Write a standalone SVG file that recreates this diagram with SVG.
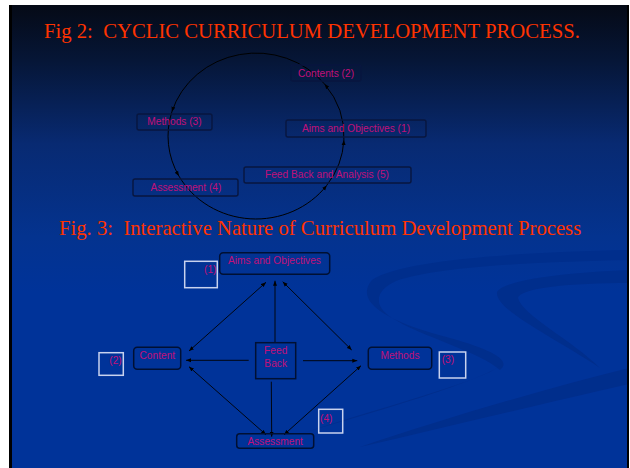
<svg xmlns="http://www.w3.org/2000/svg" width="630" height="468" viewBox="0 0 630 468">
<defs>
<linearGradient id="bg" x1="0" y1="5" x2="0" y2="468" gradientUnits="userSpaceOnUse">
<stop offset="0" stop-color="#050a16"/>
<stop offset="0.12" stop-color="#061637"/>
<stop offset="0.3" stop-color="#082a72"/>
<stop offset="0.5" stop-color="#04338f"/>
<stop offset="0.62" stop-color="#003399"/>
<stop offset="1" stop-color="#003399"/>
</linearGradient>
<marker id="ah" viewBox="0 0 10 10" refX="10" refY="5" markerWidth="5" markerHeight="5" orient="auto-start-reverse" markerUnits="userSpaceOnUse">
<path d="M0,1 L10,5 L0,9 z" fill="#000"/>
</marker>
<style>
.title{font-family:"Liberation Serif","Times New Roman",serif;font-size:20.7px;fill:#ff3300}
.lbl{font-family:"Liberation Sans",Arial,sans-serif;font-size:10.2px;fill:#c0107a;text-anchor:middle}
.num{font-family:"Liberation Sans",Arial,sans-serif;font-size:10.2px;fill:#c0107a}
.b2{fill:none;stroke:#08163f;stroke-width:1.4}
.b3{fill:none;stroke:#001033;stroke-width:1.5}
.sq{fill:none;stroke:#c8d2ee;stroke-width:1.5}
.cyc{fill:none;stroke:#000;stroke-width:1;marker-end:url(#ah)}
.ln{fill:none;stroke:#000;stroke-width:0.9}
.one{marker-end:url(#ah)}
.two{marker-start:url(#ah);marker-end:url(#ah)}
.sw{fill:#002e8c}
</style>
</defs>
<rect x="0" y="0" width="630" height="468" fill="#ffffff"/>
<rect x="9" y="5" width="620" height="463" fill="url(#bg)"/>
<g id="swoosh">
<path class="sw" d="M629,250 C520,252 400,260 372,280 C355,300 380,320 450,338 C500,352 510,362 500,370 C480,352 420,336 392,318 C372,305 376,290 396,281 C440,266 540,262 629,260 z"/>
<path class="sw" d="M500,366 C470,385 380,410 300,434 C380,408 455,388 490,372 z"/>
<path class="sw" d="M629,270 C560,273 505,280 497,292 C495,310 550,335 600,368 C572,340 522,315 518,298 C520,288 570,283 629,283 z"/>
<path class="sw" d="M629,368 C540,390 440,420 360,447 C450,426 550,402 629,384 z"/>
</g>
<rect x="9" y="5" width="3" height="463" fill="#000"/>
<rect x="627" y="5" width="2" height="463" fill="#000"/>
<text class="title" x="44" y="38" xml:space="preserve">Fig 2:  CYCLIC CURRICULUM DEVELOPMENT PROCESS.</text>
<text class="title" x="59" y="235" xml:space="preserve">Fig. 3:  Interactive Nature of Curriculum Development Process</text>
<g id="cycle-connectors">
<path class="cyc" d="M326.7,185.4 A88,83 0 0 0 343.9,140.1"/>
<path class="cyc" d="M343.9,140.1 A88,83 0 0 0 324.6,84.1"/>
<path class="cyc" d="M324.6,84.1 A88,83 0 0 0 171.9,111.7"/>
<path class="cyc" d="M171.9,111.7 A88,83 0 0 0 178.9,176"/>
<path class="cyc" d="M178.9,176 A88,83 0 0 0 326.7,185.4"/>
</g>
<g id="f2-contents"><rect class="b2" x="291" y="65" width="70" height="16" rx="2"/><text class="lbl" x="326" y="76.5">Contents (2)</text></g>
<g id="f2-methods"><rect class="b2" x="137" y="114" width="75" height="16" rx="2"/><text class="lbl" x="174.5" y="125">Methods (3)</text></g>
<g id="f2-aims"><rect class="b2" x="286" y="120" width="140" height="17" rx="2"/><text class="lbl" x="356" y="132">Aims and Objectives (1)</text></g>
<g id="f2-feedback"><rect class="b2" x="244" y="167" width="167" height="16" rx="2"/><text class="lbl" x="327" y="178">Feed Back and Analysis (5)</text></g>
<g id="f2-assessment"><rect class="b2" x="133" y="179" width="105" height="17" rx="2"/><text class="lbl" x="186" y="191">Assessment (4)</text></g>
<g id="f3-connectors">
<path class="ln two" d="M266,282.3 L189,351"/>
<path class="ln one" d="M275,342.7 L275,280.7"/>
<path class="ln two" d="M282.7,281.7 L351.7,350"/>
<path class="ln one" d="M303,360.7 L357.3,360.7"/>
<path class="ln one" d="M248.7,360.3 L186,360.3"/>
<path class="ln one" d="M271.3,381.7 L271.7,436.7"/>
<path class="ln two" d="M189,366.7 L266,434.7"/>
<path class="ln two" d="M284,434.7 L361,365.7"/>
</g>
<g id="f3-aims"><rect class="b3" x="219.7" y="252.7" width="110" height="21.6" rx="3.5"/><text class="lbl" x="274.5" y="264">Aims and Objectives</text></g>
<g id="f3-content"><rect class="b3" x="133.7" y="347.3" width="47" height="22" rx="3.5"/><text class="lbl" x="157.3" y="358.7">Content</text></g>
<g id="f3-methods"><rect class="b3" x="368.3" y="347.3" width="63.4" height="22" rx="3.5"/><text class="lbl" x="400" y="359">Methods</text></g>
<g id="f3-feedback"><rect class="b3" x="255.7" y="342.7" width="40" height="36"/><text class="lbl" x="275.7" y="354">Feed</text><text class="lbl" x="275.7" y="367">Back</text></g>
<g id="f3-assessment"><rect class="b3" x="236.7" y="433.7" width="77" height="14.6" rx="3"/><text class="lbl" x="275.2" y="444.5">Assessment</text></g>
<g id="tag1"><rect class="sq" x="184.7" y="261.3" width="32.6" height="26.4"/><text class="num" x="204" y="273.3">(1)</text></g>
<g id="tag2"><rect class="sq" x="99" y="352.7" width="24.3" height="22.6"/><text class="num" x="109.3" y="364.3">(2)</text></g>
<g id="tag3"><rect class="sq" x="439.3" y="352" width="26.4" height="26"/><text class="num" x="441.7" y="363.3">(3)</text></g>
<g id="tag4"><rect class="sq" x="318.7" y="409.3" width="24" height="23.7"/><text class="num" x="320" y="421.7">(4)</text></g>
</svg>
